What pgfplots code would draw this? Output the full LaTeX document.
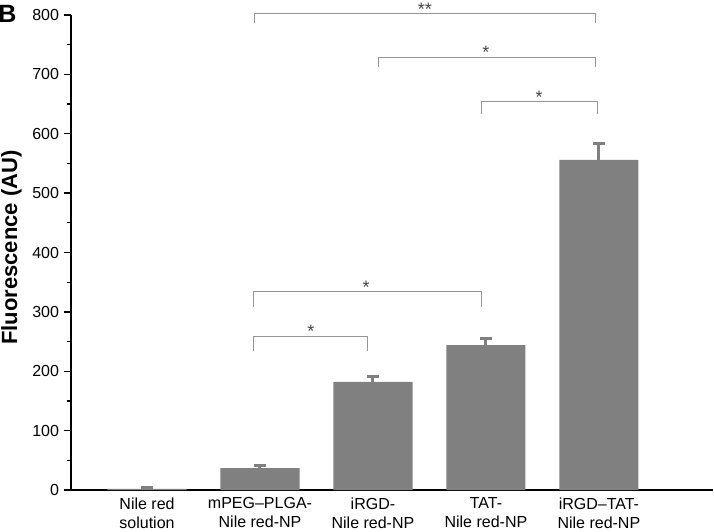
\documentclass[border=0pt]{standalone}
\usepackage{pgfplots}
\pgfplotsset{compat=1.18}
\usepackage{fontspec}
\setmainfont{Liberation Sans}
\definecolor{barg}{RGB}{128,128,128}
\definecolor{brk}{RGB}{150,150,150}
\definecolor{star}{RGB}{70,70,70}
\begin{document}
\begin{tikzpicture}
\begin{axis}[
  at={(0,0)}, anchor=south west,
  scale only axis, width=642pt, height=475pt,
  xmin=-0.673, xmax=5.01, ymin=0, ymax=800,
  clip=false,
  axis x line=bottom, axis y line=left,
  axis line style={-, line width=1.3pt, black},
  xtick={0,1,2,3,4},
  xticklabels={{Nile red\\solution},{mPEG--PLGA-\\Nile red-NP},{iRGD-\\Nile red-NP},{TAT-\\Nile red-NP},{iRGD--TAT-\\Nile red-NP}},
  xtick style={draw=none},
  xticklabel style={align=center, font=\fontsize{16}{19}\selectfont, yshift=3pt},
  ytick={0,100,...,800},
  minor y tick num=1,
  tick align=outside,
  major tick length=7pt, minor tick length=4pt,
  ytick style={line width=1.3pt, black},
  minor tick style={line width=1.3pt, black},
  yticklabel style={font=\fontsize{16}{18}\selectfont, xshift=-1.5pt},
  /pgf/number format/assume math mode=true,
  every axis y label/.style={at={(axis description cs:-0.084,0.5105)}, rotate=90, anchor=base},
  ylabel={\fontsize{22}{24}\selectfont\bfseries Fluorescence (AU)},
]
\addplot[ybar, bar width=0.7, fill=barg, draw=none, bar shift=0pt,
  error bars/.cd, y dir=plus, y explicit,
  error bar style={line width=3pt, color=barg},
  error mark options={rotate=90, mark size=6pt, line width=3pt, color=barg}]
  table[x=x, y=y, y error=e] {
x y e
0 2 2
1 37 4
2 182 10
3 244 12
4 556 28
};
% significance brackets
\draw[brk, line width=1.2pt] (axis cs:0.95,786) -- (axis cs:0.95,803) -- (axis cs:3.97,803) -- (axis cs:3.97,786);
\draw[brk, line width=1.2pt] (axis cs:2.05,712) -- (axis cs:2.05,729) -- (axis cs:3.97,729) -- (axis cs:3.97,712);
\draw[brk, line width=1.2pt] (axis cs:2.96,634) -- (axis cs:2.96,654) -- (axis cs:3.99,654) -- (axis cs:3.99,634);
\draw[brk, line width=1.2pt] (axis cs:0.94,309) -- (axis cs:0.94,334) -- (axis cs:2.96,334) -- (axis cs:2.96,309);
\draw[brk, line width=1.2pt] (axis cs:0.94,234) -- (axis cs:0.94,259) -- (axis cs:1.95,259) -- (axis cs:1.95,234);
\node[star, font=\fontsize{18}{18}\selectfont, inner sep=0pt] at (axis cs:2.46,809) {**};
\node[star, font=\fontsize{18}{18}\selectfont, inner sep=0pt] at (axis cs:3.0,737) {*};
\node[star, font=\fontsize{18}{18}\selectfont, inner sep=0pt] at (axis cs:3.47,661) {*};
\node[star, font=\fontsize{18}{18}\selectfont, inner sep=0pt] at (axis cs:1.94,342) {*};
\node[star, font=\fontsize{18}{18}\selectfont, inner sep=0pt] at (axis cs:1.45,267) {*};
\end{axis}
\node[font=\fontsize{25}{25}\selectfont\bfseries] at (-63.5pt,476pt) {B};
\pgfresetboundingbox
\useasboundingbox (-71pt,-41pt) rectangle (643pt,490pt);
\end{tikzpicture}
\end{document}
